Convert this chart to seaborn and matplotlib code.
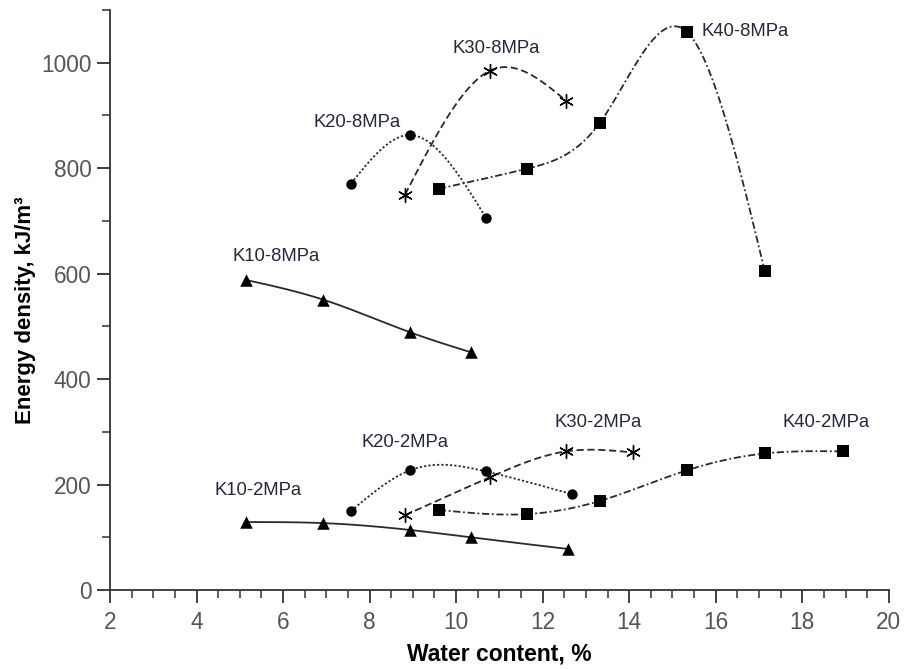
import numpy as np
import pandas as pd
import matplotlib
matplotlib.use("Agg")
import matplotlib.pyplot as plt
import seaborn as sns

# ---- data ----
k10_8_x = [5.15, 6.92, 8.93, 10.34]
k10_8_y = [588, 551, 489, 451]
k10_2_x = [5.15, 6.92, 8.93, 10.34, 12.58]
k10_2_y = [129, 127, 114, 100, 78]

k20_8_x = [7.57, 8.93, 10.69]
k20_8_y = [771, 863, 706]
k20_2_x = [7.57, 8.93, 10.69, 12.67]
k20_2_y = [150, 227, 225, 182]

k30_8_x = [8.82, 10.78, 12.54]
k30_8_y = [750, 985, 928]
k30_2_x = [8.82, 10.78, 12.54, 14.08]
k30_2_y = [142, 214, 263, 261]

k40_8_x = [9.60, 11.63, 13.32, 15.33, 17.13]
k40_8_y = [761, 799, 886, 1059, 606]
k40_2_x = [9.60, 11.63, 13.32, 15.33, 17.13, 18.94]
k40_2_y = [152, 144, 169, 227, 259, 263]

labels = ["K10-8MPa", "K10-2MPa", "K20-8MPa", "K20-2MPa",
          "K30-8MPa", "K30-2MPa", "K40-8MPa", "K40-2MPa"]
label_x = [5.84, 5.42, 7.71, 8.82, 10.92, 13.28, 15.68, 18.54]
label_y = [633, 188, 886, 280, 1028, 318, 1059, 318]


def natural_spline(x, y, n=300):
    x = np.asarray(x, float)
    y = np.asarray(y, float)
    m = len(x)
    h = np.diff(x)
    A = np.zeros((m, m))
    b = np.zeros(m)
    A[0, 0] = 1
    A[-1, -1] = 1
    for i in range(1, m - 1):
        A[i, i - 1] = h[i - 1]
        A[i, i] = 2 * (h[i - 1] + h[i])
        A[i, i + 1] = h[i]
        b[i] = 6 * ((y[i + 1] - y[i]) / h[i] - (y[i] - y[i - 1]) / h[i - 1])
    M = np.linalg.solve(A, b)
    xs = np.linspace(x[0], x[-1], n)
    idx = np.clip(np.searchsorted(x, xs) - 1, 0, m - 2)
    x0, x1 = x[idx], x[idx + 1]
    hh = x1 - x0
    t0 = x1 - xs
    t1 = xs - x0
    ys = (M[idx] * t0 ** 3 / (6 * hh) + M[idx + 1] * t1 ** 3 / (6 * hh)
          + (y[idx] / hh - M[idx] * hh / 6) * t0
          + (y[idx + 1] / hh - M[idx + 1] * hh / 6) * t1)
    return xs, ys


sns.set_style("ticks")
plt.rcParams['font.family'] = ['Liberation Sans', 'DejaVu Sans']

fig = plt.figure(figsize=(9.06, 6.69), dpi=100)
ax = fig.add_axes([0.1214, 0.118, 0.8596, 0.867])

series = [
    (k10_8_x, k10_8_y, "-", "^", 9),
    (k10_2_x, k10_2_y, "-", "^", 9),
    (k20_8_x, k20_8_y, (0, (1.2, 1.2)), "o", 7.5),
    (k20_2_x, k20_2_y, (0, (1.2, 1.2)), "o", 7.5),
    (k30_8_x, k30_8_y, (0, (4, 2)), (6, 2, 0), 10),
    (k30_2_x, k30_2_y, (0, (4, 2)), (6, 2, 0), 10),
    (k40_8_x, k40_8_y, (0, (4, 1.5, 1, 1.5)), "s", 8.5),
    (k40_2_x, k40_2_y, (0, (4, 1.5, 1, 1.5)), "s", 8.5),
]

for xs_, ys_, ls, mk, ms in series:
    sx, sy = natural_spline(xs_, ys_)
    ax.plot(sx, sy, linestyle=ls, color="#2a2a2a", lw=1.3, zorder=2)
    df = pd.DataFrame({"x": xs_, "y": ys_})
    sns.scatterplot(data=df, x="x", y="y", marker=mk, s=ms ** 2, color="black",
                    edgecolor="black", linewidth=1.0 if mk == (6, 2, 0) else 0,
                    ax=ax, zorder=3)

for lab, lx, ly in zip(labels, label_x, label_y):
    ha = "left" if lab == "K40-8MPa" else "center"
    ax.text(lx, ly, lab, ha=ha, va="center", fontsize=13.3, color="#24283c")

ax.set_xlim(2, 20)
ax.set_ylim(0, 1100)
ax.set_xticks(np.arange(2, 21, 2))
ax.set_xticks(np.arange(2, 20.01, 0.5), minor=True)
ax.set_yticks(np.arange(0, 1001, 200))
ax.set_yticks(np.arange(0, 1101, 100), minor=True)

for s in ["top", "right"]:
    ax.spines[s].set_visible(False)
for s in ["left", "bottom"]:
    ax.spines[s].set_color("#333333")
    ax.spines[s].set_linewidth(1.3)

ax.tick_params(axis="both", which="major", length=9.4, width=1.3, color="#333333",
               labelsize=16.3, labelcolor="#555555", direction="out", pad=4)
ax.tick_params(axis="x", which="major", pad=6)
ax.tick_params(axis="both", which="minor", length=5.6, width=1.1, color="#333333")

ax.set_xlabel("Water content, %", fontsize=16.5, fontweight="bold", color="black", labelpad=6)
ax.set_ylabel("Energy density, kJ/m³", fontsize=16, fontweight="bold", color="black")
ax.yaxis.set_label_coords(-0.095, 0.483)

fig.savefig("out.png", dpi=100)
